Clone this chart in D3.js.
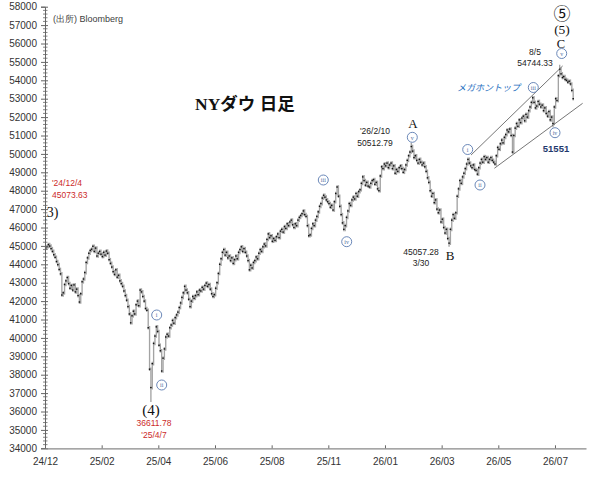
<!DOCTYPE html>
<html>
<head>
<meta charset="utf-8">
<script src="https://cdn.jsdelivr.net/npm/d3@7"></script>
<style>
  body { margin: 0; background: #fff; }
  svg { display: block; }
</style>
</head>
<body>
<svg id="chart"></svg>
<script>
// daily closes, one per trading day
var closes = [
  44880,44960,45070,44990,44850,44700,44520,44380,44150,43980,
  43720,43480,42330,42450,42900,43100,43280,42950,42700,42850,
  42600,42880,42500,42650,42300,41950,42400,43050,43200,43550,
  44100,44350,44600,44750,44820,44980,44700,44880,44450,44600,
  44700,44550,44420,44650,44500,44720,44600,44250,44050,43850,
  43600,43450,43700,43300,43400,43100,42950,42800,42550,42300,
  42050,41700,41300,40820,41200,41450,41300,41800,42000,41750,
  42600,42500,42250,42000,41600,41500,40550,38300,37300,38600,
  39700,40100,40600,40350,39600,39300,38200,38900,39400,40050,
  40200,40100,40550,40700,40950,40800,41100,41250,41400,41650,
  41900,42200,42450,42800,42600,42450,42100,41700,42000,42250,
  42150,42300,42500,42350,42600,42550,42750,42650,42850,42980,
  42800,42900,42650,42400,42250,42350,42700,43000,43500,44000,
  44300,44650,44800,44500,44650,44350,44450,44200,44350,44050,
  44250,44450,44300,44650,44800,44950,44700,44850,44650,44450,
  44200,43700,43950,43800,44100,44200,44400,44300,44600,44800,
  44700,44950,45100,45000,45350,45650,45450,45550,45250,45400,
  45300,45500,45650,45450,45800,45900,45750,46050,45950,46200,
  46100,46300,46400,46150,46000,46200,46100,46400,46550,46650,
  46750,46900,46700,46600,46100,45550,45600,45950,46200,46100,
  46400,46600,46850,47150,47300,47600,47750,47650,47500,47400,
  47300,47100,47200,46950,47400,47850,48200,47700,47150,46700,
  46250,45900,46100,46550,46900,47300,47200,47500,47650,47550,
  47850,47700,47950,48050,48400,48750,48550,48300,48450,48250,
  48200,48400,48550,48600,48350,48450,48100,48000,48800,49300,
  49200,49450,49350,49500,49250,49400,49500,49200,49350,48950,
  49150,49050,49250,49350,49200,49000,49150,49400,49650,49900,
  50100,50400,50150,49800,49900,49650,49500,49700,49550,49400,
  49500,49300,49050,48700,48450,48000,47700,47850,47350,47500,
  47000,46800,46950,46300,46450,46000,45700,45900,45400,45150,
  45900,46400,46700,46500,46800,47700,48100,48550,48400,48750,
  48950,49200,49450,49700,49500,49350,49250,49400,49150,49100,
  48900,49250,49500,49700,49550,49850,49700,49800,49550,49700,
  49800,49650,49550,49450,49900,50350,50250,50550,50750,50600,
  50900,51050,51300,51200,51350,51000,50100,51000,51400,51650,
  51500,51850,51700,51950,52050,51800,52150,52000,52350,52550,
  52800,53050,52800,52500,52600,52850,52700,52550,52650,52350,
  52500,52200,52050,52300,51850,52000,51650,52550,53000,52900,
  54250,54600,54350,54150,54200,54050,54000,53900,53950,53800,53450,53000
];

// labelled extremes [day index, value]
var extremeHighs = [[2, 45073.63], [271, 50512.79], [381, 54744.33]];
var extremeLows = [[78, 36611.78], [299, 45057.28], [376, 51551]];

// megaphone lines [day index, value]
var channelUpper = [[315.8, 49940], [383.7, 54780]];
var channelLower = [[333.1, 49220], [398.5, 52750]];

var xTickLabels = ["24/12","25/02","25/04","25/06","25/08","25/11","26/01","26/03","26/05","26/07"];
var tickStep = 42;     // trading days between x ticks
var axisDays = 401;
var yMin = 34000, yMax = 58000;

function drawChart() {
  var width = 604, height = 478;
  var plotLeft = 45, plotRight = 586, plotTop = 6.7, plotBottom = 448.3;
  var wickPad = 1.8; // px, bar ends

  var svg = d3.select("#chart")
    .attr("width", width)
    .attr("height", height);

  var x = d3.scaleLinear().domain([0, axisDays]).range([plotLeft, plotRight]);
  var y = d3.scaleLinear().domain([yMin, yMax]).range([plotBottom, plotTop]);

  svg.append("clipPath").attr("id", "plot")
    .append("rect")
    .attr("x", plotLeft + 0.5).attr("y", 0)
    .attr("width", width - plotLeft).attr("height", plotBottom);

  // bars: open = previous close
  var bars = closes.map(function (c, i) {
    var o = i ? closes[i - 1] : c;
    var hi = Math.max(o, c), lo = Math.min(o, c);
    extremeHighs.forEach(function (e) { if (e[0] === i) hi = Math.max(hi, e[1]); });
    extremeLows.forEach(function (e) { if (e[0] === i) lo = Math.min(lo, e[1]); });
    return { i: i, c: c, hi: hi, lo: lo };
  });

  var g = svg.append("g");

  g.selectAll("line.bar")
    .data(bars)
    .enter()
    .append("line")
    .attr("class", "bar")
    .attr("x1", d => x(d.i + 0.5)).attr("x2", d => x(d.i + 0.5))
    .attr("y1", d => y(d.hi) - wickPad).attr("y2", d => y(d.lo) + wickPad)
    .attr("stroke", "#a3a3a3")
    .attr("stroke-width", 1.35);

  g.selectAll("rect.close")
    .data(bars)
    .enter()
    .append("rect")
    .attr("class", "close")
    .attr("x", d => x(d.i + 0.5) - 0.75)
    .attr("y", d => y(d.c) - 0.7)
    .attr("width", 1.5).attr("height", 1.4)
    .attr("fill", "#111");

  // channel lines
  [channelUpper, channelLower].forEach(function (ln) {
    svg.append("line")
      .attr("x1", x(ln[0][0])).attr("y1", y(ln[0][1]))
      .attr("x2", x(ln[1][0])).attr("y2", y(ln[1][1]))
      .attr("stroke", "#666").attr("stroke-width", 0.9);
  });

  // axes
  var yMajor = d3.range(yMin, yMax + 1, 1000);
  var yMinorTicks = d3.range(yMin, yMax + 1, 200).filter(v => v % 1000 !== 0);

  var yAxis = svg.append("g")
    .attr("transform", `translate(${plotLeft},0)`)
    .call(d3.axisLeft(y).tickValues(yMajor).tickSize(4).tickPadding(4).tickFormat(d3.format("d")));
  yAxis.select(".domain").attr("stroke", "#666");
  yAxis.selectAll(".tick line").attr("stroke", "#666").attr("x2", -4).attr("x1", 3);
  yAxis.selectAll("text").attr("font-size", 10).attr("fill", "#333")
    .attr("font-family", "Liberation Sans, Arial, sans-serif");

  svg.append("g").selectAll("line")
    .data(yMinorTicks)
    .enter()
    .append("line")
    .attr("x1", plotLeft - 2).attr("x2", plotLeft + 2.5)
    .attr("y1", d => y(d)).attr("y2", d => y(d))
    .attr("stroke", "#666").attr("stroke-width", 0.8);

  var xAxis = svg.append("g")
    .attr("transform", `translate(0,${plotBottom})`)
    .call(d3.axisBottom(x)
      .tickValues(d3.range(0, xTickLabels.length).map(k => k * tickStep))
      .tickSizeInner(-3).tickSizeOuter(0).tickPadding(10)
      .tickFormat((d, k) => xTickLabels[k]));
  xAxis.select(".domain").attr("stroke", "#888").attr("stroke-width", 1.3);
  xAxis.selectAll(".tick line").attr("stroke", "#666");
  xAxis.selectAll("text").attr("font-size", 10).attr("fill", "#333")
    .attr("font-family", "Liberation Sans, Arial, sans-serif");

  // annotations
  var serif = "Liberation Serif, 'Noto Sans CJK JP', serif";
  var notes = [
    { t: "(出所) Bloomberg", x: 53, y: 22, s: 9, c: "#404040" },
    { t: "'24/12/4", x: 52, y: 186, s: 8.5, c: "#cc2a2a" },
    { t: "45073.63", x: 52, y: 198, s: 8.5, c: "#cc2a2a" },
    { t: "(3)", x: 42, y: 217, s: 14, c: "#111", f: serif, clip: true },
    { t: "(4)", x: 151, y: 415, s: 15, c: "#111", f: serif, a: "middle" },
    { t: "36611.78", x: 154, y: 425.5, s: 8.5, c: "#cc2a2a", a: "middle" },
    { t: "'25/4/7", x: 154, y: 437.5, s: 8.5, c: "#cc2a2a", a: "middle" },
    { t: "'26/2/10", x: 375, y: 134, s: 8.5, c: "#222", a: "middle" },
    { t: "50512.79", x: 375, y: 145.5, s: 8.5, c: "#222", a: "middle" },
    { t: "A", x: 413, y: 127.5, s: 13, c: "#111", f: serif, a: "middle" },
    { t: "45057.28", x: 421, y: 255, s: 8.5, c: "#222", a: "middle" },
    { t: "3/30", x: 421, y: 266, s: 8.5, c: "#222", a: "middle" },
    { t: "B", x: 450, y: 260, s: 13, c: "#111", f: serif, a: "middle" },
    { t: "8/5", x: 535, y: 55, s: 8.5, c: "#222", a: "middle" },
    { t: "54744.33", x: 535, y: 66, s: 8.5, c: "#222", a: "middle" },
    { t: "メガホントップ", x: 457, y: 90.5, s: 9, c: "#1f6fc0", i: true, f: "'Noto Sans CJK JP', sans-serif" },
    { t: "51551", x: 556, y: 152, s: 9.5, c: "#1f3a6e", a: "middle", w: "bold" },
    { t: "C", x: 561, y: 47.5, s: 12.5, c: "#111", f: serif, a: "middle" },
    { t: "(5)", x: 562, y: 34, s: 13.5, c: "#111", f: serif, a: "middle" },
    { t: "⑤", x: 562, y: 19.5, s: 17, c: "#111", f: "'Noto Sans CJK JP', sans-serif", a: "middle" },
    { t: "NYダウ 日足", x: 195, y: 110, s: 17.5, c: "#111", f: serif, w: "bold" }
  ];

  svg.append("g").selectAll("text")
    .data(notes)
    .enter()
    .append("text")
    .attr("x", d => d.x).attr("y", d => d.y)
    .attr("font-size", d => d.s)
    .attr("fill", d => d.c)
    .attr("font-family", d => d.f || "Liberation Sans, Arial, sans-serif")
    .attr("font-weight", d => d.w || "normal")
    .attr("font-style", d => d.i ? "italic" : "normal")
    .attr("text-anchor", d => d.a || "start")
    .attr("clip-path", d => d.clip ? "url(#plot)" : null)
    .text(d => d.t);

  // wave count circles
  var waves = [
    { t: "i", x: 156.7, y: 315 }, { t: "ii", x: 161.7, y: 385 },
    { t: "iii", x: 323.3, y: 180 }, { t: "iv", x: 346.7, y: 241.7 },
    { t: "v", x: 412.3, y: 137.3 },
    { t: "i", x: 467.7, y: 149.5 }, { t: "ii", x: 480, y: 185 },
    { t: "iii", x: 533.3, y: 87.5 }, { t: "iv", x: 555, y: 132.7 },
    { t: "v", x: 561.7, y: 53.5 }
  ];

  var wg = svg.append("g").selectAll("g")
    .data(waves)
    .enter()
    .append("g")
    .attr("transform", d => `translate(${d.x},${d.y})`);
  wg.append("circle").attr("r", 5)
    .attr("fill", "#fff").attr("stroke", "#5a7bb0").attr("stroke-width", 0.9);
  wg.append("text")
    .attr("text-anchor", "middle").attr("y", 2.2)
    .attr("font-size", 6).attr("fill", "#4a6aa0")
    .attr("font-family", serif)
    .text(d => d.t);
}

drawChart();
</script>
</body>
</html>
